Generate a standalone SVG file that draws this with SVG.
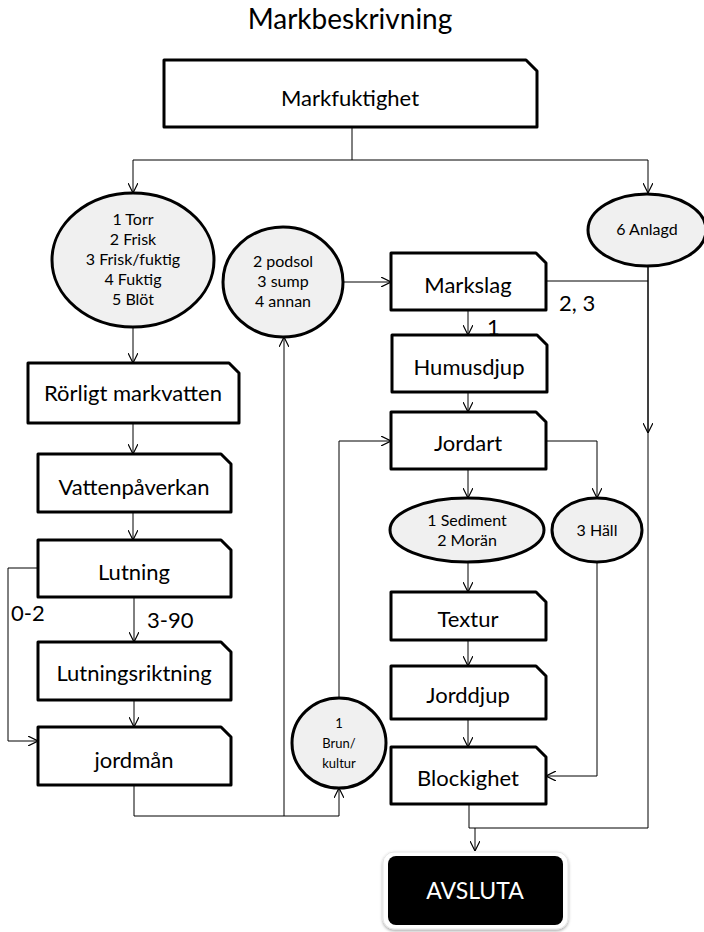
<svg xmlns="http://www.w3.org/2000/svg" width="704" height="932" viewBox="0 0 704 932">
<defs>
<marker id="arr" viewBox="0 0 10 10" refX="10" refY="5" markerWidth="10" markerHeight="10" markerUnits="userSpaceOnUse" orient="auto">
<path d="M0,0 L10,5 L0,10" fill="none" stroke="#000" stroke-width="1.2"/>
</marker>
<filter id="sh" x="-10%" y="-10%" width="120%" height="125%">
<feDropShadow dx="0" dy="1.5" stdDeviation="1.5" flood-color="#000" flood-opacity="0.35"/>
</filter>
</defs>
<style>
text{font-family:Lato,"Liberation Sans",sans-serif;fill:#000;text-anchor:middle}
.box{fill:#fff;stroke:#000;stroke-width:3;stroke-linejoin:round}
.ell{fill:#f0f0f0;stroke:#000;stroke-width:3}
.bt{font-size:22px}
.et{font-size:16px}
.lb{font-size:22px;text-anchor:start}
.c{fill:none;stroke:#000;stroke-width:1}
.ca{fill:none;stroke:#000;stroke-width:1;marker-end:url(#arr)}
</style>
<text x="350" y="29" style="font-size:28px">Markbeskrivning</text>

<g id="connectors">
<path class="c" d="M352,127 V160 M133,160 H648"/>
<path class="ca" d="M133,160 V193"/>
<path class="ca" d="M648,160 V193"/>
<path class="ca" d="M133,327 V363"/>
<path class="ca" d="M133,423 V454"/>
<path class="ca" d="M133,512 V540"/>
<path class="ca" d="M134,597 V642"/>
<path class="ca" d="M38,568 H8 V741 H38"/>
<path class="ca" d="M134,700 V727"/>
<path class="ca" d="M134,785 V816 H339 V788"/>
<path class="ca" d="M284,816 V337"/>
<path class="ca" d="M339,698 V441 H391"/>
<path class="ca" d="M343,282 H391"/>
<path class="c" d="M546,281 H648"/>
<path class="c" d="M648,266 V828 H469 V804"/>
<path class="ca" d="M648,266 V433"/>
<path class="ca" d="M468,310 V335"/>
<path class="ca" d="M468,392 V412"/>
<path class="ca" d="M546,441 H597 V498"/>
<path class="ca" d="M468,469 V498"/>
<path class="ca" d="M468,562 V592"/>
<path class="ca" d="M468,640 V666"/>
<path class="ca" d="M468,719 V747"/>
<path class="ca" d="M597,562 V776 H546"/>
<path class="ca" d="M475,828 V851"/>
<text class="lb" x="559" y="311">2, 3</text>
<text class="lb" x="487" y="335">1</text>
<text class="lb" x="147" y="628">3-90</text>
<text class="lb" x="11" y="621">0-2</text>
</g>

<g id="markfuktighet">
<path class="box" d="M164,60 H526 L537,71 V127 H164 Z"/>
<text class="bt" x="350" y="106">Markfuktighet</text>
</g>

<g id="fukt-val">
<ellipse class="ell" cx="133" cy="260" rx="81" ry="67"/>
<text class="et" x="133" y="225">1 Torr</text>
<text class="et" x="133" y="245">2 Frisk</text>
<text class="et" x="133" y="265">3 Frisk/fuktig</text>
<text class="et" x="133" y="285">4 Fuktig</text>
<text class="et" x="133" y="305">5 Blöt</text>
</g>

<g id="anlagd">
<ellipse class="ell" cx="647" cy="230" rx="59" ry="36"/>
<text class="et" x="647" y="235">6 Anlagd</text>
</g>

<g id="podsol">
<ellipse class="ell" cx="283" cy="282" rx="60" ry="55"/>
<text class="et" x="283" y="267">2 podsol</text>
<text class="et" x="283" y="287">3 sump</text>
<text class="et" x="283" y="307">4 annan</text>
</g>

<g id="rorligt">
<path class="box" d="M28,363 H229 L239,373 V423 H28 Z"/>
<text class="bt" x="133" y="401">Rörligt markvatten</text>
</g>

<g id="vattenpaverkan">
<path class="box" d="M38,454 H221 L231,464 V512 H38 Z"/>
<text class="bt" x="134" y="495">Vattenpåverkan</text>
</g>

<g id="lutning">
<path class="box" d="M38,540 H221 L231,550 V597 H38 Z"/>
<text class="bt" x="134" y="580">Lutning</text>
</g>

<g id="lutningsriktning">
<path class="box" d="M38,642 H221 L231,652 V700 H38 Z"/>
<text class="bt" x="134" y="681">Lutningsriktning</text>
</g>

<g id="jordman">
<path class="box" d="M38,727 H221 L231,737 V785 H38 Z"/>
<text class="bt" x="134" y="768">jordmån</text>
</g>

<g id="brun">
<ellipse class="ell" cx="339" cy="743" rx="47" ry="45"/>
<text x="339" y="728" style="font-size:13px">1</text>
<text x="339" y="748" style="font-size:13px">Brun/</text>
<text x="339" y="768" style="font-size:13px">kultur</text>
</g>

<g id="markslag">
<path class="box" d="M391,253 H536 L546,263 V310 H391 Z"/>
<text class="bt" x="468" y="293">Markslag</text>
</g>

<g id="humusdjup">
<path class="box" d="M392,335 H537 L547,345 V392 H392 Z"/>
<text class="bt" x="469" y="375">Humusdjup</text>
</g>

<g id="jordart">
<path class="box" d="M391,412 H536 L546,422 V469 H391 Z"/>
<text class="bt" x="468" y="451">Jordart</text>
</g>

<g id="sediment">
<ellipse class="ell" cx="467" cy="530" rx="77" ry="32"/>
<text class="et" x="467" y="526">1 Sediment</text>
<text class="et" x="467" y="546">2 Morän</text>
</g>

<g id="hall">
<ellipse class="ell" cx="597" cy="530" rx="45" ry="32"/>
<text class="et" x="597" y="536">3 Häll</text>
</g>

<g id="textur">
<path class="box" d="M391,592 H536 L546,602 V640 H391 Z"/>
<text class="bt" x="468" y="627">Textur</text>
</g>

<g id="jorddjup">
<path class="box" d="M391,666 H536 L546,676 V719 H391 Z"/>
<text class="bt" x="468" y="703">Jorddjup</text>
</g>

<g id="blockighet">
<path class="box" d="M391,747 H536 L546,757 V804 H391 Z"/>
<text class="bt" x="468" y="786">Blockighet</text>
</g>

<g id="avsluta">
<rect x="383" y="852" width="185" height="77" rx="11" fill="#fff" stroke="#e6e6e6" stroke-width="1" filter="url(#sh)"/>
<rect x="388" y="856" width="175" height="69" rx="8" fill="#000"/>
<text x="475" y="899" style="font-size:23px;fill:#fff">AVSLUTA</text>
</g>
</svg>
